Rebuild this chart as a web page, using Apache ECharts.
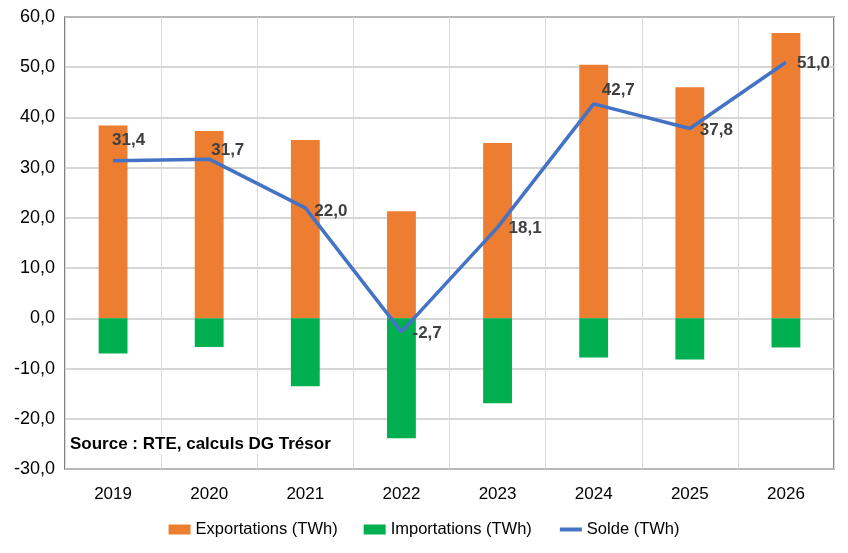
<!DOCTYPE html>
<html>
<head>
<meta charset="utf-8">
<script src="https://cdn.jsdelivr.net/npm/echarts@6/dist/echarts.min.js"></script>
<style>
  html, body { margin: 0; padding: 0; background: #fff; }
  #chart { width: 848px; height: 553px; }
</style>
</head>
<body>
<div id="chart"></div>
<script>
const years = ['2019', '2020', '2021', '2022', '2023', '2024', '2025', '2026']
const exportations = [38.4, 37.3, 35.5, 21.3, 34.9, 50.5, 46.0, 56.8]
const importations = [-7.0, -5.7, -13.5, -23.9, -16.9, -7.8, -8.2, -5.8]
const solde = [31.4, 31.7, 22.0, -2.7, 18.1, 42.7, 37.8, 51.0]

// décalage des étiquettes du solde (px, relatif au point)
const labelOffsets = [[-1, -20], [2, -9], [9, 3], [11, 1], [11, 1], [8, -14], [10, 2], [11, 1]]

const fmt = (v) => v.toFixed(1).replace('.', ',')
const font = 'Liberation Sans, Arial, sans-serif'

const chart = echarts.init(document.getElementById('chart'))

const option = {
  animation: false,
  textStyle: { fontFamily: font },
  grid: {
    left: 65,
    right: 14,
    top: 17,
    bottom: 84,
    show: true,
    borderColor: '#595959',
    borderWidth: 1.5,
    backgroundColor: 'transparent'
  },
  legend: {
    bottom: 10,
    left: 'center',
    itemWidth: 22,
    itemHeight: 10,
    itemGap: 26,
    textStyle: { fontSize: 16.5, color: '#000', fontFamily: font },
    data: [
      { name: 'Exportations (TWh)', icon: 'rect' },
      { name: 'Importations (TWh)', icon: 'rect' },
      { name: 'Solde (TWh)', itemStyle: { opacity: 0 }, lineStyle: { width: 4 } }
    ]
  },
  graphic: [
    {
      type: 'text',
      left: 68,
      top: 435,
      z: 10,
      style: {
        text: 'Source : RTE, calculs DG Trésor',
        font: 'bold 17px ' + font,
        fill: '#000',
        backgroundColor: '#fff',
        padding: [1, 2]
      }
    }
  ],
  xAxis: {
    type: 'category',
    data: years,
    axisLine: { show: false },
    axisTick: { show: false },
    axisLabel: { fontSize: 17, color: '#000', margin: 17 },
    splitLine: { show: true, lineStyle: { color: '#d9d9d9', width: 1 } }
  },
  yAxis: {
    type: 'value',
    min: -30,
    max: 60,
    interval: 10,
    axisLine: { show: false },
    axisTick: { show: false },
    axisLabel: { fontSize: 18, color: '#000', margin: 10, formatter: fmt },
    splitLine: { lineStyle: { color: '#c8c8c8', width: 1.5 } }
  },
  series: [
    {
      name: 'Exportations (TWh)',
      type: 'bar',
      stack: 'total',
      data: exportations,
      barWidth: '30%',
      itemStyle: { color: '#ED7D31' }
    },
    {
      name: 'Importations (TWh)',
      type: 'bar',
      stack: 'total',
      data: importations,
      barWidth: '30%',
      itemStyle: { color: '#00B050' }
    },
    {
      name: 'Solde (TWh)',
      type: 'line',
      data: solde.map((v, i) => ({
        value: v,
        label: { offset: labelOffsets[i] }
      })),
      symbol: 'circle',
      symbolSize: 0.1,
      showSymbol: true,
      lineStyle: { color: '#4472C4', width: 3.5 },
      itemStyle: { color: '#4472C4' },
      label: {
        show: true,
        position: 'right',
        distance: 0,
        fontSize: 17,
        fontWeight: 'bold',
        color: '#404040',
        formatter: (p) => fmt(p.value)
      },
      z: 5
    }
  ]
}

chart.setOption(option)
</script>
</body>
</html>
